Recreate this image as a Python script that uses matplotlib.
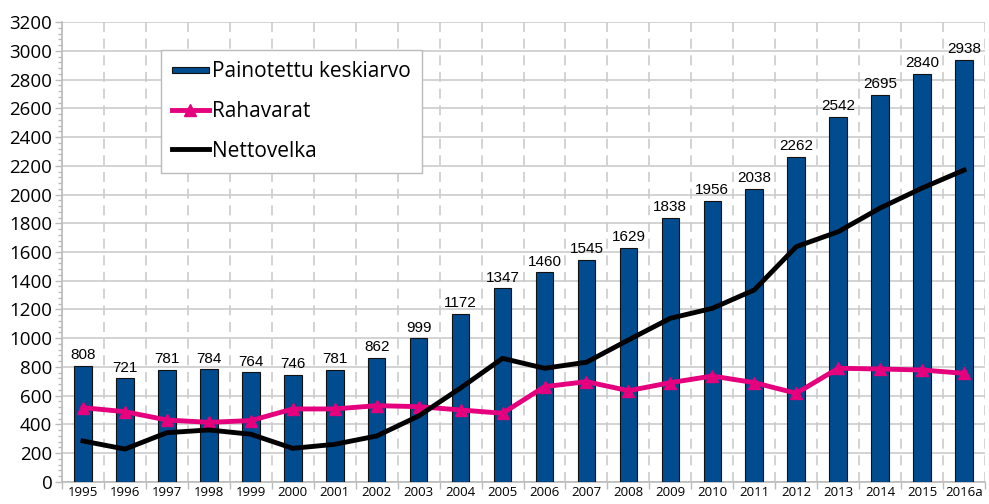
import matplotlib
matplotlib.use("Agg")
import matplotlib.pyplot as plt
import numpy as np
from matplotlib.ticker import MultipleLocator, FixedLocator
from matplotlib.legend_handler import HandlerPatch
from matplotlib.patches import Rectangle

years = ["1995", "1996", "1997", "1998", "1999", "2000", "2001", "2002", "2003", "2004",
         "2005", "2006", "2007", "2008", "2009", "2010", "2011", "2012", "2013", "2014",
         "2015", "2016a"]
painotettu = [808, 721, 781, 784, 764, 746, 781, 862, 999, 1172, 1347, 1460, 1545, 1629,
              1838, 1956, 2038, 2262, 2542, 2695, 2840, 2938]
rahavarat = [517, 489, 431, 415, 427, 508, 508, 531, 524, 501, 478, 663, 698, 635, 691,
             737, 691, 617, 791, 786, 779, 756]
nettovelka = [285, 229, 343, 362, 332, 234, 262, 320, 459, 654, 860, 791, 833, 988, 1139,
              1208, 1336, 1637, 1741, 1906, 2045, 2170]

fig = plt.figure(figsize=(9.89, 5.04), dpi=100)
ax = fig.add_axes([0.0627, 0.0437, 0.9333, 0.9126])

x = np.arange(len(years))
bars = ax.bar(x, painotettu, width=0.42, color="#004C8F", edgecolor="#111111", linewidth=0.8,
              label="Painotettu keskiarvo", zorder=3)
l1, = ax.plot(x, rahavarat, color="#E5007E", lw=3.5, marker="^", markersize=8,
              label="Rahavarat", zorder=4)
l2, = ax.plot(x, nettovelka, color="black", lw=3.5, label="Nettovelka", zorder=4)

for xi, v in zip(x, painotettu):
    ax.text(xi, v + 25, str(v), ha="center", va="bottom", fontsize=11,
            family="Liberation Sans", zorder=5)

ax.set_xlim(-0.5, len(years) - 0.5)
ax.set_ylim(0, 3200)
ax.yaxis.set_major_locator(MultipleLocator(200))
ax.yaxis.set_minor_locator(MultipleLocator(40))
ax.set_xticks(x)
ax.set_xticklabels(years, fontsize=9.5, family="Open Sans")
ax.tick_params(axis="x", length=0, pad=3)
ax.xaxis.set_minor_locator(FixedLocator(np.arange(-0.5, len(years), 1.0)))
ax.tick_params(axis="x", which="minor", length=5, color="#BBBBBB", width=1)
for lab in ax.get_yticklabels():
    lab.set_fontsize(13.5)
    lab.set_family("Open Sans")
ax.tick_params(axis="y", which="major", length=5, color="#BBBBBB", width=1, pad=2)
ax.tick_params(axis="y", which="minor", length=3, color="#BBBBBB", width=1)

ax.grid(axis="y", which="major", color="#CCCCCC", lw=1.2, zorder=0)
ax.grid(axis="x", which="minor", color="#CCCCCC", lw=1.2, ls=(0, (6, 4)), zorder=0)
ax.set_axisbelow(True)

for s in ["top", "right"]:
    ax.spines[s].set_visible(False)
for s in ["left", "bottom"]:
    ax.spines[s].set_color("#BBBBBB")
    ax.spines[s].set_linewidth(1.2)


def thin_rect(legend, orig_handle, xdescent, ydescent, width, height, fontsize):
    h = height * 0.4
    return Rectangle((-xdescent, -ydescent + (height - h) / 2), width, h)


bar_handle = bars.patches[0]
leg = ax.legend([bar_handle, l1, l2], ["Painotettu keskiarvo", "Rahavarat", "Nettovelka"],
                loc="upper left", bbox_to_anchor=(0.107, 0.94),
                prop={"family": "Open Sans", "size": 15}, frameon=True, fancybox=False,
                edgecolor="#BBBBBB", framealpha=1, borderpad=0.55, labelspacing=0.9,
                handlelength=1.75, handletextpad=0.15, borderaxespad=0,
                handler_map={bar_handle: HandlerPatch(patch_func=thin_rect)})
leg.get_frame().set_linewidth(1.0)

fig.savefig("out.png", dpi=100)
